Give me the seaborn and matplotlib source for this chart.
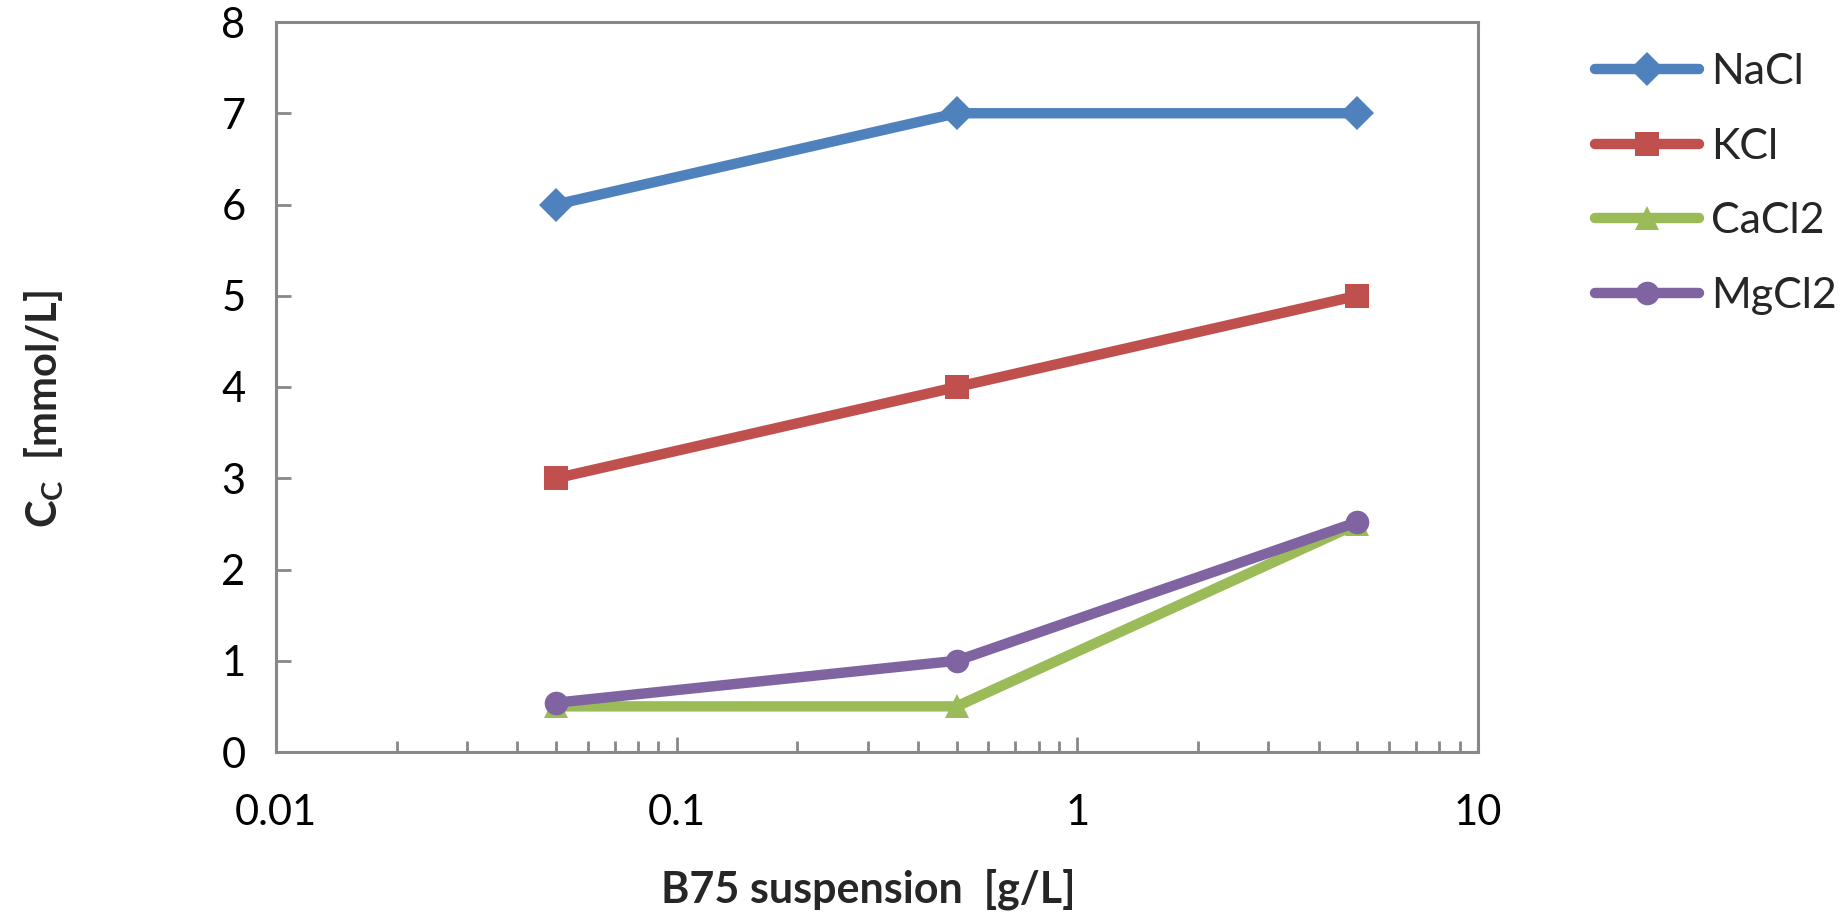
import numpy as np
import pandas as pd
import matplotlib
matplotlib.use('Agg')
import matplotlib.pyplot as plt
import seaborn as sns
from matplotlib.ticker import LogLocator, FixedLocator, NullFormatter

# Данные
concentration = [0.05, 0.5, 5]
nacl = [6.0, 7.0, 7.0]
kcl = [3.0, 4.0, 5.0]
cacl2 = [0.5, 0.5, 2.5]
mgcl2 = [0.54, 1.0, 2.52]

salts = ['NaCl', 'KCl', 'CaCl2', 'MgCl2']
colors = ['#4F81BD', '#C0504D', '#9BBB59', '#8064A2']
markers = ['D', 's', '^', 'o']
x_ticks = [0.01, 0.1, 1, 10]
x_tick_labels = ['0.01', '0.1', '1', '10']
y_ticks = [0, 1, 2, 3, 4, 5, 6, 7, 8]

df = pd.DataFrame({
    'x': concentration * 4,
    'y': nacl + kcl + cacl2 + mgcl2,
    'salt': np.repeat(salts, len(concentration)),
})

sns.set_theme(style='white')
plt.rcParams['font.family'] = ['Lato', 'DejaVu Sans']
plt.rcParams['mathtext.fontset'] = 'custom'
plt.rcParams['mathtext.rm'] = 'Lato'
plt.rcParams['mathtext.bf'] = 'Lato:bold'

fig = plt.figure(figsize=(18.42, 9.16), dpi=100)
ax = fig.add_axes([276 / 1842, 1 - 752 / 916, 1202 / 1842, 730 / 916])

sns.lineplot(
    data=df, x='x', y='y', hue='salt', style='salt',
    hue_order=salts, style_order=salts,
    palette=dict(zip(salts, colors)),
    markers=dict(zip(salts, markers)),
    dashes=False, linewidth=7.5, markersize=17,
    markeredgewidth=0, ax=ax,
)

ax.set_xscale('log')
ax.set_xlim(0.01, 10)
ax.set_ylim(0, 8)
ax.xaxis.set_major_locator(FixedLocator(x_ticks))
ax.set_xticklabels(x_tick_labels)
ax.xaxis.set_minor_locator(LogLocator(base=10, subs=np.arange(2, 10)))
ax.xaxis.set_minor_formatter(NullFormatter())
ax.set_yticks(y_ticks)

gray = '#888888'
for sp in ax.spines.values():
    sp.set_color(gray)
    sp.set_linewidth(2.2)

ax.tick_params(axis='x', which='major', direction='in', length=11, width=2,
               color=gray, labelsize=30, pad=30, labelcolor='black',
               bottom=True)
ax.tick_params(axis='x', which='minor', direction='in', length=8, width=2,
               color=gray, bottom=True)
ax.tick_params(axis='y', which='major', direction='in', length=11, width=2,
               color=gray, labelsize=30, pad=22, labelcolor='black',
               left=True)

ax.set_xlabel('B75 suspension  [g/L]', fontsize=31, fontweight='bold')
ax.set_ylabel(r'$\mathbf{C_C}$  [mmol/L]', fontsize=30, fontweight='bold')
ax.xaxis.set_label_coords(0.493, -0.16)
ax.yaxis.set_label_coords(-0.175, 0.47)

ax.legend(loc='upper left', bbox_to_anchor=(1578 / 1842, 1 - 36 / 916),
          bbox_transform=fig.transFigure, frameon=False, fontsize=31,
          handlelength=2.4, handletextpad=0.3, labelspacing=0.85,
          borderaxespad=0)

fig.savefig('out.png', dpi=100)
